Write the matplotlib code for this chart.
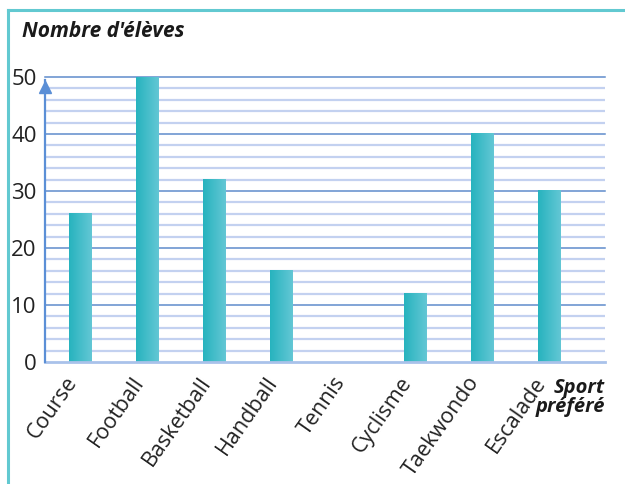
import numpy as np
from matplotlib import pyplot as plt
from matplotlib.lines import Line2D
from matplotlib.colors import LinearSegmentedColormap
from matplotlib.transforms import ScaledTranslation

sports = ["Course", "Football", "Basketball", "Handball", "Tennis",
          "Cyclisme", "Taekwondo", "Escalade"]
eleves = [26, 50, 32, 16, 0, 12, 40, 30]
y_major = [0, 10, 20, 30, 40, 50]

plt.rcParams['font.family'] = ['Open Sans', 'DejaVu Sans']

fig = plt.figure(figsize=(6.25, 4.84), dpi=100)
ax = fig.add_axes([0.072, 0.252, 0.896, 0.589])

x = np.arange(len(sports))

# grid: light every 2, darker every 10
for v in range(2, 50, 2):
    if v % 10:
        ax.axhline(v, color='#c3d1f0', lw=1.6, zorder=1)
for v in y_major[1:]:
    ax.axhline(v, color='#5f8ccc', lw=1.1, zorder=1, clip_on=False)
ax.axhline(0, color='#a9c2ea', lw=2, zorder=3, clip_on=False)

# bars with a left-to-right gradient
bars = ax.bar(x, eleves, width=0.33, color='none', zorder=2)
grad = np.linspace(0, 1, 64).reshape(1, -1)
cmap = LinearSegmentedColormap.from_list('bar', ['#27b3be', '#63c7d5'])
for b in bars:
    if b.get_height() <= 0:
        continue
    x0, w, h = b.get_x(), b.get_width(), b.get_height()
    ax.imshow(grad, extent=[x0, x0 + w, 0, h], cmap=cmap,
              aspect='auto', zorder=2, interpolation='bilinear')
ax.set_xlim(-0.52, 7.84)
ax.set_ylim(0, 50)

# y axis with arrow
ax.plot([-0.52, -0.52], [0, 49.5], color='#5b8fd6', lw=1.6, zorder=4,
        clip_on=False)
ax.plot(-0.52, 48.3, marker='^', color='#5b8fd6', markersize=9, zorder=4,
        clip_on=False)

for s in ax.spines.values():
    s.set_visible(False)

ax.set_yticks(y_major)
ax.set_yticklabels([str(v) for v in y_major], fontsize=16, color='#222222')
ax.tick_params(axis='y', length=0, pad=6)
ax.set_xticks(x)
ax.set_xticklabels(sports, rotation=55, ha='right', va='center',
                   rotation_mode='anchor', fontsize=15.5, color='#222222')
ax.tick_params(axis='x', length=0, pad=12)
shift = ScaledTranslation(-7 / 100, 0, fig.dpi_scale_trans)
for lab in ax.get_xticklabels():
    lab.set_transform(lab.get_transform() + shift)

fig.text(0.035, 0.935, "Nombre d'élèves", fontsize=15, fontweight='bold',
         style='italic', color='#1a1a1a', ha='left', va='center')
fig.text(0.968, 0.178, "Sport\npréféré", fontsize=14.5, fontweight='bold',
         style='italic', color='#1a1a1a', ha='right', va='center',
         linespacing=0.95)

# teal frame on the top and left
frame = '#62c9d1'
fig.add_artist(Line2D([0.013, 1.0], [0.979, 0.979], color=frame, lw=2.2,
                      transform=fig.transFigure))
fig.add_artist(Line2D([0.013, 0.013], [0.0, 0.979], color=frame, lw=2.2,
                      transform=fig.transFigure))

plt.savefig("out.png", dpi=100)
plt.close()
